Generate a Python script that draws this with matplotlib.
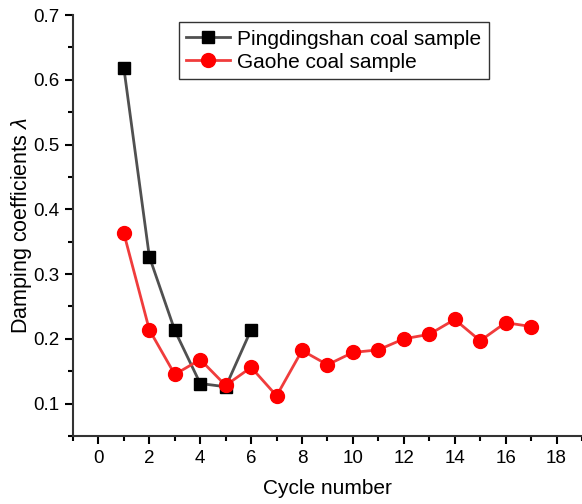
import matplotlib
matplotlib.use("Agg")
import matplotlib.pyplot as plt
from matplotlib.ticker import MultipleLocator

plt.rcParams['font.family'] = ['Liberation Sans', 'DejaVu Sans']
plt.rcParams['mathtext.fontset'] = 'custom'
plt.rcParams['mathtext.it'] = 'Liberation Sans:italic'

ping_x = [1, 2, 3, 4, 5, 6]
ping_y = [0.618, 0.327, 0.213, 0.131, 0.126, 0.214]
gaohe_x = list(range(1, 18))
gaohe_y = [0.363, 0.214, 0.145, 0.168, 0.128, 0.156, 0.112, 0.182, 0.160,
           0.179, 0.183, 0.200, 0.207, 0.230, 0.197, 0.225, 0.219]

fig = plt.figure(figsize=(5.82, 5.04), dpi=100)
ax = fig.add_axes([0.1254, 0.135, 0.8746, 0.835])

ax.plot(ping_x, ping_y, color='#505050', lw=2, marker='s', ms=8.5,
        mfc='black', mec='black', label='Pingdingshan coal sample', zorder=3)
ax.plot(gaohe_x, gaohe_y, color='#f03c3c', lw=2, marker='o', ms=10,
        mfc='#ff0000', mec='#ff0000', label='Gaohe coal sample', zorder=4)

ax.set_xlim(-1, 19)
ax.set_ylim(0.05, 0.7)
ax.xaxis.set_minor_locator(MultipleLocator(1))
ax.yaxis.set_minor_locator(MultipleLocator(0.05))
ax.set_xticks([0, 2, 4, 6, 8, 10, 12, 14, 16, 18])
ax.set_yticks([0.1, 0.2, 0.3, 0.4, 0.5, 0.6, 0.7])
ax.tick_params(which='major', direction='out', length=6, width=1.5, labelsize=13.5, pad=4)
ax.tick_params(which='minor', direction='out', length=3.5, width=1.5)
for s in ['top', 'right']:
    ax.spines[s].set_visible(False)
for s in ['left', 'bottom']:
    ax.spines[s].set_linewidth(1.5)
    ax.spines[s].set_color('#333333')

ax.set_xlabel('Cycle number', fontsize=15, labelpad=9)
ax.set_ylabel(r'Damping coefficients $\lambda$', fontsize=15.5)
ax.yaxis.set_label_coords(-0.077, 0.5)

leg = ax.legend(loc='upper left', bbox_to_anchor=(0.208, 0.983), fontsize=15,
                frameon=True, fancybox=False, edgecolor='black',
                handlelength=2.1, borderpad=0.35, labelspacing=0.2,
                handletextpad=0.35, borderaxespad=0)
leg.get_frame().set_linewidth(1)

fig.savefig('out.png', dpi=100)
